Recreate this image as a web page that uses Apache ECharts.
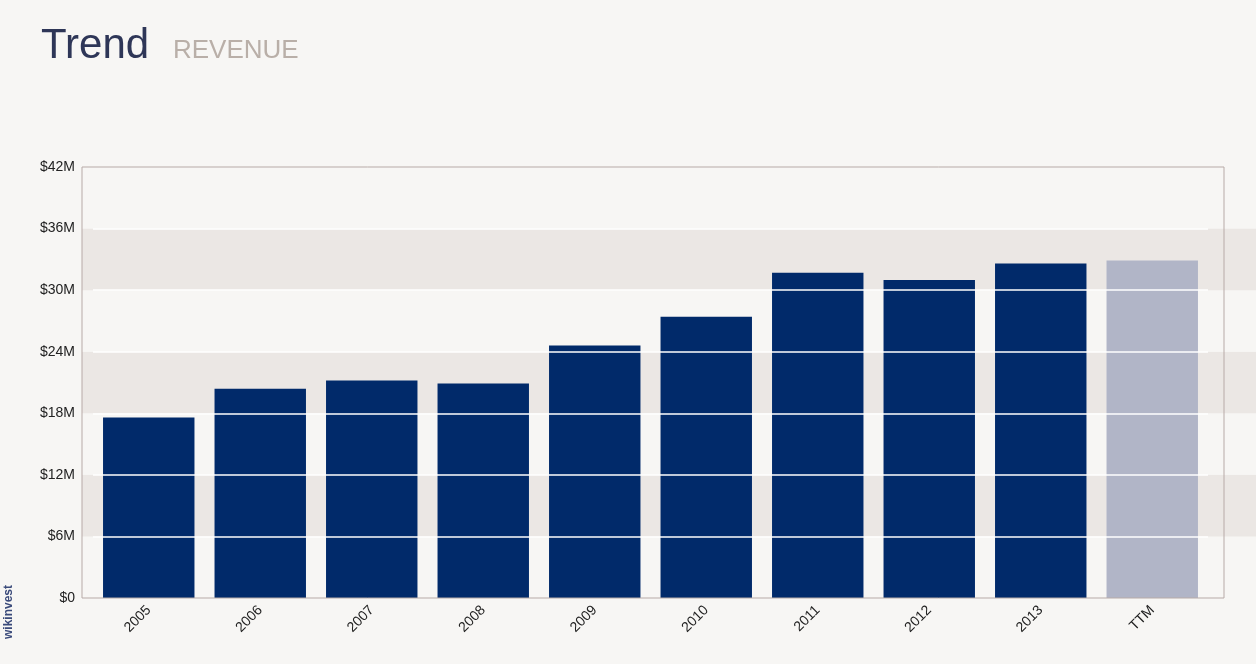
<!DOCTYPE html>
<html>
<head>
<meta charset="utf-8">
<script src="https://cdn.jsdelivr.net/npm/echarts@6/dist/echarts.min.js"></script>
<style>
  html, body { margin: 0; padding: 0; background: #f7f6f4; }
  #main { width: 1256px; height: 664px; }
</style>
</head>
<body>
<div id="main"></div>
<script>
var categories = ['2005', '2006', '2007', '2008', '2009', '2010', '2011', '2012', '2013', 'TTM'];
var revenue = [17.6, 20.4, 21.2, 20.9, 24.6, 27.4, 31.7, 31.0, 32.6, 32.9];
var gridValues = [6, 12, 18, 24, 30, 36];

var myChart = echarts.init(document.getElementById('main'));
var option = {
    backgroundColor: '#f7f6f4',
    animation: false,
    title: {
        text: 'Trend',
        left: 36,
        top: 20,
        textStyle: { fontFamily: 'Liberation Sans', fontSize: 42, fontWeight: 'normal', color: '#2e3657' }
    },
    graphic: [{
        type: 'text',
        left: 173,
        top: 38,
        style: { text: 'REVENUE', font: '26px Liberation Sans', fill: '#b9afa8' }
    }, {
        type: 'text',
        left: 3,
        top: 585,
        rotation: Math.PI / 2,
        style: { text: 'wikinvest', font: 'bold 12px Liberation Sans', fill: '#3a4a7a' }
    }, {
        type: 'rect',
        z: 10,
        shape: { x: 82, y: 167, width: 1142, height: 431 },
        style: { fill: 'none', stroke: '#b7aaa7', lineWidth: 1 }
    }],
    grid: [
        { left: 93, right: 48, top: 167, bottom: 66 },
        { left: 82, right: 0, top: 167, bottom: 66, z: -1 }
    ],
    xAxis: [{
        type: 'category',
        data: categories,
        axisLine: { show: false },
        axisTick: { show: false },
        axisLabel: { rotate: 45, color: '#222', fontFamily: 'Liberation Sans', fontSize: 14, margin: 10 }
    }, {
        gridIndex: 1, type: 'value', show: false
    }],
    yAxis: [{
        type: 'value',
        min: 0,
        max: 42,
        interval: 6,
        axisLine: { show: false },
        axisTick: { show: false },
        splitLine: { show: false },
        axisLabel: {
            color: '#222', fontFamily: 'Liberation Sans', fontSize: 14, margin: 18,
            formatter: function (v) { return v === 0 ? '$0' : '$' + v + 'M'; }
        }
    }, {
        gridIndex: 1,
        type: 'value',
        min: 0,
        max: 42,
        interval: 6,
        axisLine: { show: false },
        axisTick: { show: false },
        axisLabel: { show: false },
        splitLine: { show: false },
        splitArea: { show: true, areaStyle: { color: ['#f7f6f4', '#ebe7e4'] } }
    }],
    series: [{
        type: 'bar',
        data: revenue.map(function (v, i) {
            return { value: v, itemStyle: { color: i === revenue.length - 1 ? '#b1b5c7' : '#012a6a' } };
        }),
        barCategoryGap: '18%',
        markLine: {
            silent: true,
            symbol: 'none',
            label: { show: false },
            lineStyle: { color: '#ffffff', width: 1.5, type: 'solid' },
            data: gridValues.map(function (v) { return { yAxis: v }; })
        }
    }]
};
myChart.setOption(option);
</script>
</body>
</html>
